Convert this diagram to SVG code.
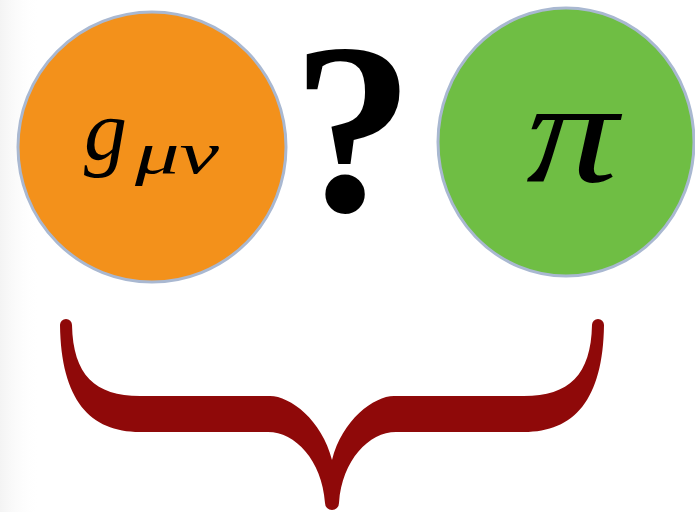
<svg xmlns="http://www.w3.org/2000/svg" width="695" height="512" viewBox="0 0 695 512">
<style>
.node{stroke:#a9b8d1;stroke-width:3}
.math{font-family:"Liberation Serif","Times New Roman",serif;font-style:italic;fill:#000}
</style>
<defs>
<linearGradient id="edge" x1="0" y1="0" x2="1" y2="0">
<stop offset="0" stop-color="#ececec"/>
<stop offset="1" stop-color="#ffffff" stop-opacity="0"/>
</linearGradient>
</defs>
<rect width="695" height="512" fill="#ffffff"/>
<rect x="0" y="0" width="40" height="512" fill="url(#edge)" opacity="0.6"/>
<g id="node-g">
<ellipse class="node" cx="152" cy="147" rx="134" ry="135" fill="#f3911b"/>
<text class="math" x="84" y="159" font-size="86">g</text>
<text class="math" x="135" y="173" font-size="60" textLength="84" lengthAdjust="spacingAndGlyphs">μν</text>
</g>
<g id="node-q">
<text x="353" y="211" font-family="'Liberation Serif','Times New Roman',serif" font-weight="bold" font-size="244" text-anchor="middle" fill="#000">?</text>
</g>
<g id="node-pi">
<ellipse class="node" cx="566" cy="142" rx="128" ry="134" fill="#6fbe44"/>
<text class="math" x="526" y="182" font-size="146" textLength="92" lengthAdjust="spacingAndGlyphs">π</text>
</g>
<g id="brace">
<path fill="#8f0909" d="M 72 325 C 73 375, 95 396, 140 396 L 270 396 C 290 396, 322 420, 332 460 C 342 420, 374 396, 394 396 L 524 396 C 569 396, 591 375, 592 325 A 6 6 0 0 1 604 325 C 603 400, 574 432, 524 432 L 396 432 C 369 432, 342 460, 339 503 A 7 7 0 0 1 325 503 C 322 460, 295 432, 268 432 L 140 432 C 90 432, 61 400, 60 325 A 6 6 0 0 1 72 325 Z"/>
</g>
</svg>
